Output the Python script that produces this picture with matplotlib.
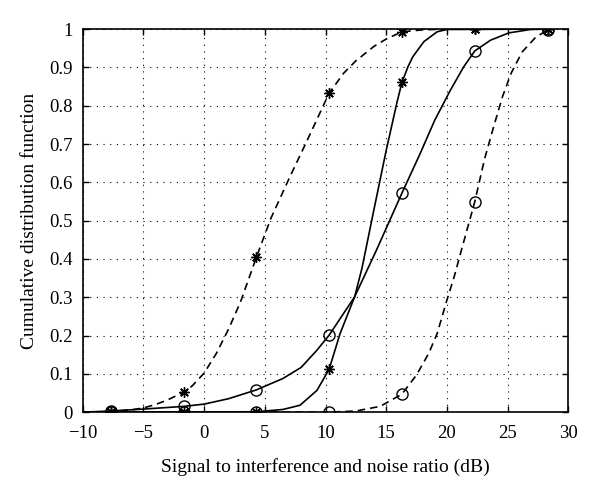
import matplotlib
matplotlib.use("Agg")
import matplotlib.pyplot as plt

plt.rcParams['font.family'] = ['Liberation Serif', 'DejaVu Serif']
plt.rcParams['mathtext.fontset'] = 'stix'

# Marker positions (dB) shared by all curves
marker_x = [-7.7, -1.7, 4.3, 10.3, 16.3, 22.3, 28.3]

# Curve A: dashed, asterisk markers
a_x = [-10, -8, -6, -5, -4, -3, -1.7, -1, 0, 1, 2, 3, 4.3, 5.5, 7, 8.5, 10.3, 11.5, 12.5, 14, 15, 16.3, 18, 20, 28.3]
a_y = [0.0, 0.001, 0.006, 0.011, 0.02, 0.032, 0.052, 0.068, 0.102, 0.153, 0.216, 0.288, 0.404, 0.506, 0.61, 0.71, 0.833, 0.885, 0.917, 0.955, 0.974, 0.993, 0.998, 1.0, 1.0]
a_marks = [0.0, 0.052, 0.404, 0.833, 0.993, 1.0, 1.0]

# Curve B: solid, circle markers
b_x = [-10, -7.7, -5, -1.7, 0, 2, 4.3, 6.5, 8, 9.3, 10.3, 12.4, 14.2, 16.3, 17.8, 19, 20.3, 21.4, 22.3, 23.6, 25.1, 26.9, 28.3]
b_y = [0.0, 0.003, 0.008, 0.015, 0.021, 0.035, 0.058, 0.088, 0.117, 0.162, 0.201, 0.301, 0.423, 0.572, 0.675, 0.762, 0.841, 0.902, 0.943, 0.971, 0.99, 0.999, 1.0]
b_marks = [0.003, 0.015, 0.058, 0.201, 0.572, 0.943, 1.0]

# Curve C: solid, asterisk markers
c_x = [-10, 4.3, 6.5, 7.9, 9.3, 10.3, 11.2, 12.4, 13.0, 14.0, 15.0, 15.9, 16.3, 16.8, 17.2, 18.1, 19.2, 20, 28.3]
c_y = [0.0, 0.001, 0.007, 0.018, 0.057, 0.112, 0.205, 0.301, 0.375, 0.53, 0.683, 0.81, 0.861, 0.902, 0.928, 0.967, 0.993, 0.999, 1.0]
c_marks = [0.0, 0.0, 0.001, 0.112, 0.861, 1.0, 1.0]

# Curve D: dashed, circle markers
d_x = [-10, 10.3, 12.5, 14.5, 16.3, 17.5, 18.5, 19.2, 20.0, 20.6, 21.2, 22.3, 23.1, 23.9, 24.6, 25.3, 26.2, 27.3, 28.3]
d_y = [0.0, 0.0, 0.003, 0.015, 0.047, 0.097, 0.153, 0.205, 0.292, 0.353, 0.423, 0.549, 0.66, 0.75, 0.825, 0.885, 0.94, 0.978, 0.998]
d_marks = [0.0, 0.0, 0.0, 0.0, 0.047, 0.549, 0.998]

x_ticks = [-10, -5, 0, 5, 10, 15, 20, 25, 30]
y_ticks = [0, 0.1, 0.2, 0.3, 0.4, 0.5, 0.6, 0.7, 0.8, 0.9, 1]
y_tick_labels = ['0', '0.1', '0.2', '0.3', '0.4', '0.5', '0.6', '0.7', '0.8', '0.9', '1']
x_tick_labels = ['\u221210', '\u22125', '0', '5', '10', '15', '20', '25', '30']

fig = plt.figure(figsize=(6.0, 4.93), dpi=100)
ax = fig.add_axes([0.138, 0.164, 0.809, 0.777])

dash = (0, (4.5, 3))
lw = 1.2
star = (8, 2, 0)

ax.plot(a_x, a_y, color='black', lw=lw, linestyle=dash)
ax.plot(marker_x, a_marks, linestyle='none', marker=star, ms=7.5, mew=1.0, color='black')

ax.plot(b_x, b_y, color='black', lw=lw, linestyle='-')
ax.plot(marker_x, b_marks, linestyle='none', marker='o', ms=8, mew=1.0, mfc='none', color='black')

ax.plot(c_x, c_y, color='black', lw=lw, linestyle='-')
ax.plot(marker_x, c_marks, linestyle='none', marker=star, ms=7.5, mew=1.0, color='black')

ax.plot(d_x, d_y, color='black', lw=lw, linestyle=dash)
ax.plot(marker_x, d_marks, linestyle='none', marker='o', ms=8, mew=1.0, mfc='none', color='black')

ax.set_xlim(-10, 30)
ax.set_ylim(0, 1)
ax.set_xticks(x_ticks)
ax.set_xticklabels(x_tick_labels)
ax.set_yticks(y_ticks)
ax.set_yticklabels(y_tick_labels)
ax.tick_params(direction='in', top=True, right=True, length=4, width=1.0, labelsize=13.5)
ax.tick_params(axis='x', pad=9)
ax.tick_params(axis='y', pad=7)
ax.grid(True, color='black', linestyle=(0, (1, 5)), linewidth=0.8)
for s in ax.spines.values():
    s.set_linewidth(1.2)

ax.set_xlabel('Signal to interference and noise ratio (dB)', fontsize=14, labelpad=12)
ax.set_ylabel('Cumulative distribution function', fontsize=14, labelpad=8)

fig.savefig('out.png', dpi=100)
